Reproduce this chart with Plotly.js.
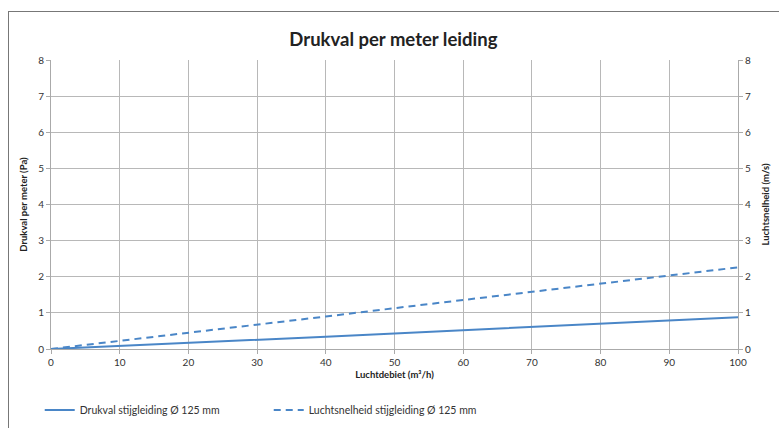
<!DOCTYPE html>
<html>
<head>
<meta charset="utf-8">
<script src="https://cdn.plot.ly/plotly-3.0.1.min.js"></script>
<style>
  html, body { margin: 0; padding: 0; background: #fff; }
  #frame { position: absolute; left: 8px; top: 11px; width: 771px; height: 417px;
           border-top: 1px solid #777; border-left: 1px solid #777; box-sizing: border-box; }
  #chart { position: absolute; left: 0; top: 0; width: 779px; height: 428px; }
</style>
</head>
<body>
<div id="frame"></div>
<div id="chart"></div>
<script>
const debiet = [0, 10, 20, 30, 40, 50, 60, 70, 80, 90, 100];
const drukval = [0, 0.08, 0.17, 0.26, 0.34, 0.43, 0.52, 0.61, 0.70, 0.79, 0.88];
const snelheid = [0, 0.22, 0.45, 0.68, 0.90, 1.13, 1.36, 1.58, 1.81, 2.04, 2.26];
const naamDrukval = 'Drukval stijgleiding Ø 125 mm';
const naamSnelheid = 'Luchtsnelheid stijgleiding Ø 125 mm';

const blauw = '#4a86c7';
const fam = 'Lato, "DejaVu Sans", sans-serif';

const traces = [
  { x: debiet, y: drukval, name: naamDrukval, type: 'scatter', mode: 'lines',
    line: { color: blauw, width: 2 }, yaxis: 'y' },
  { x: debiet, y: snelheid, name: naamSnelheid, type: 'scatter', mode: 'lines',
    line: { color: blauw, width: 2, dash: '7px,5px' }, yaxis: 'y2' }
];

const axisCommon = {
  range: [0, 8], dtick: 1, tick0: 0,
  showgrid: true, gridcolor: '#b8b8b8', gridwidth: 1,
  showline: true, linecolor: '#aaa', linewidth: 1,
  ticks: 'outside', ticklen: 4, tickcolor: '#aaa',
  tickfont: { family: fam, size: 10, color: '#333' },
  zeroline: false, fixedrange: true
};

const layout = {
  width: 779, height: 428,
  paper_bgcolor: 'rgba(0,0,0,0)', plot_bgcolor: 'rgba(0,0,0,0)',
  margin: { l: 51, r: 41, t: 60, b: 79, autoexpand: false },
  font: { family: fam, color: '#333' },
  title: { text: '<b>Drukval per meter leiding</b>', x: 0.505, xanchor: 'center',
           y: 0.908, yanchor: 'middle',
           font: { family: fam, size: 18.5, color: '#222' } },
  xaxis: {
    range: [0, 100], dtick: 10, tick0: 0,
    showgrid: true, gridcolor: '#b8b8b8', gridwidth: 1,
    showline: true, linecolor: '#aaa', linewidth: 1, mirror: false,
    ticks: 'outside', ticklen: 4, tickcolor: '#aaa',
    tickfont: { family: fam, size: 10, color: '#333' },
    zeroline: false, fixedrange: true,
    title: { text: '<b>Luchtdebiet (m³/h)</b>', standoff: 4,
             font: { family: fam, size: 9.5, color: '#222' } }
  },
  yaxis: Object.assign({}, axisCommon, {
    title: { text: '<b>Drukval per meter (Pa)</b>', standoff: 8,
             font: { family: fam, size: 9.5, color: '#222' } }
  }),
  yaxis2: Object.assign({}, axisCommon, {
    overlaying: 'y', side: 'right', showgrid: false,
    title: { text: '<b>Luchtsnelheid (m/s)</b>', standoff: 12,
             font: { family: fam, size: 9.5, color: '#222' } }
  }),
  showlegend: true,
  legend: {
    orientation: 'h',
    xref: 'container', x: 0.051, xanchor: 'left',
    yref: 'container', y: 0.042, yanchor: 'middle',
    entrywidth: 184, entrywidthmode: 'pixels',
    font: { family: fam, size: 10.5, color: '#333' },
    bgcolor: 'rgba(0,0,0,0)', itemwidth: 30
  }
};

Plotly.newPlot('chart', traces, layout, { displayModeBar: false, staticPlot: true });
</script>
</body>
</html>
